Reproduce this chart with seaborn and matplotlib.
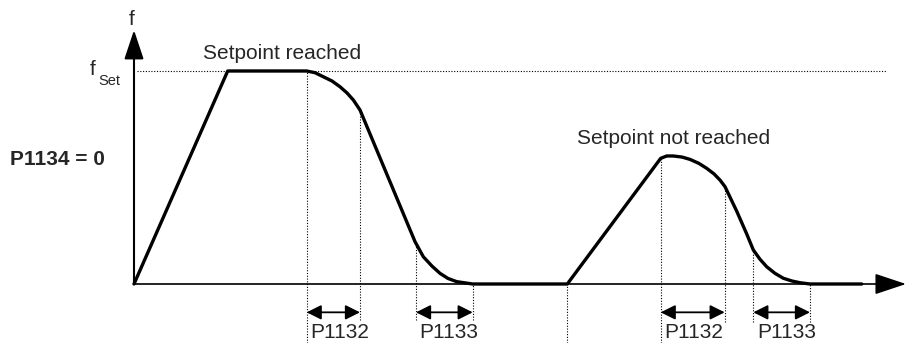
import matplotlib
matplotlib.use("Agg")
import matplotlib.pyplot as plt
import seaborn as sns
import pandas as pd

# frequency profile, t in arbitrary time units, f in % of f_set
t_profile = [0, 9.37, 17.27, 18.1, 18.93, 19.8, 20.6, 21.3, 21.93, 22.6,
             28.1, 28.93, 29.8, 30.6, 31.4, 32.27, 33.87, 43.33,
             52.67, 53.27, 53.93, 54.8, 55.6, 56.5, 57.27, 58.0, 58.6, 59.1,
             60.27, 61.27, 61.93, 62.6, 63.27, 64.1, 64.93, 65.8, 66.6, 67.6, 72.77]
f_profile = [0, 100, 100, 99.2, 97.3, 95.3, 92.6, 89.7, 86.4, 81.7,
             19.9, 12.8, 8.4, 5.0, 2.6, 1.1, 0, 0,
             59.0, 60.1, 60.1, 59.6, 58.5, 56.6, 54.3, 51.7, 48.8, 45.7,
             34.2, 23.5, 16.0, 11.6, 8.1, 5.0, 2.7, 1.4, 0.6, 0, 0]

# dotted marker lines (time, top, bottom)
marker_t = [17.27, 22.6, 28.2, 33.87, 43.33, 52.67, 59.07, 61.93, 67.6]
marker_top = [100, 81.7, 18.3, 0, 0, 59.0, 45.7, 16.0, 0]
marker_bottom = [-27.7, -16.9, -16.9, -16.9, -27.7, -27.7, -17.8, -17.8, -17.8]

# parameter intervals
span_start = [17.27, 28.2, 52.67, 61.93]
span_end = [22.6, 33.87, 59.07, 67.6]
span_labels = ["P1132", "P1133", "P1132", "P1133"]

f_set = 100

sns.set_theme(style="white")
plt.rcParams["font.family"] = ["Liberation Sans", "DejaVu Sans"]

fig = plt.figure(figsize=(9.14, 3.43), dpi=100)
ax = fig.add_axes([0, 0, 1, 1])
ax.set_xlim(-13.4, 78.0)
ax.set_ylim(-27.7, 133.33)
ax.axis("off")

# setpoint line
ax.plot([0.3, 75.2], [f_set, f_set], color="black", lw=0.8, ls=(0, (1, 1.5)))

for t, top, bot in zip(marker_t, marker_top, marker_bottom):
    ax.plot([t, t], [bot, top], color="black", lw=0.8, ls=(0, (1, 1.5)))

# axes with arrows
ax.annotate("", xy=(77.2, 0), xytext=(0, 0),
            arrowprops=dict(arrowstyle="-|>,head_length=1.5,head_width=0.5",
                            mutation_scale=13, color="black", lw=1.2,
                            shrinkA=0, shrinkB=0))
ax.annotate("", xy=(0, 119.2), xytext=(0, 0),
            arrowprops=dict(arrowstyle="-|>,head_length=1.5,head_width=0.5",
                            mutation_scale=12, color="black", lw=1.5,
                            shrinkA=0, shrinkB=0))

df = pd.DataFrame({"t": t_profile, "f": f_profile})
sns.lineplot(data=df, x="t", y="f", sort=False, estimator=None, ax=ax,
             color="black", lw=2.4, solid_joinstyle="round", solid_capstyle="round")

for a, b, lab in zip(span_start, span_end, span_labels):
    ax.annotate("", xy=(b, -13.3), xytext=(a, -13.3),
                arrowprops=dict(arrowstyle="<|-|>,head_length=0.8,head_width=0.4",
                                mutation_scale=11, color="black", lw=1.3,
                                shrinkA=0, shrinkB=0))
    ax.text(a + 0.35, -25.4, lab, fontsize=15, ha="left", va="baseline")

ax.text(-0.2, 121.6, "f", fontsize=15, ha="center", va="baseline")
ax.text(-4.4, 98.1, "f", fontsize=15, ha="left", va="baseline")
ax.text(-3.6, 93.4, "Set", fontsize=10.5, ha="left", va="baseline")
ax.text(-12.4, 55.9, "P1134 = 0", fontsize=15, fontweight="bold", ha="left", va="baseline")
ax.text(6.9, 105.6, "Setpoint reached", fontsize=15, ha="left", va="baseline")
ax.text(44.27, 65.7, "Setpoint not reached", fontsize=15, ha="left", va="baseline")

fig.savefig("out.png", dpi=100)
